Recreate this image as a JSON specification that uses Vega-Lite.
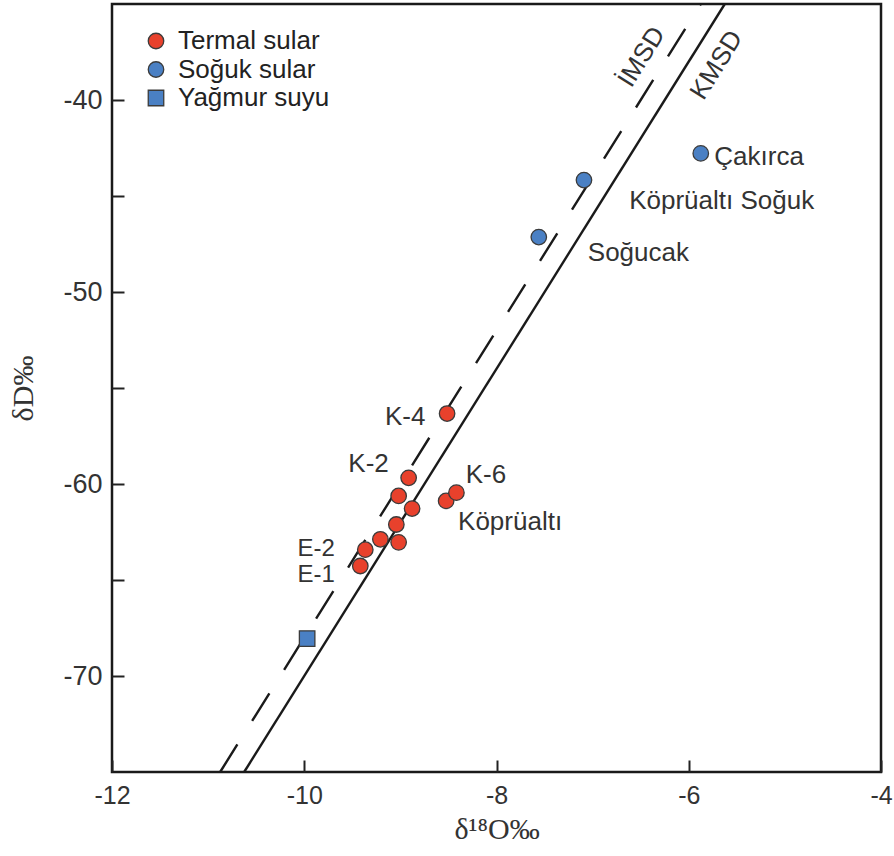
{
  "$schema": "https://vega.github.io/schema/vega-lite/v6.json",
  "width": 769,
  "height": 768,
  "autosize": "none",
  "padding": {"left": 112, "top": 4, "right": 13, "bottom": 84},
  "background": "white",
  "config": {
    "view": {"stroke": "#1a1a1a", "strokeWidth": 2.5},
    "font": "Liberation Sans"
  },
  "datasets": {
    "lines": [
      {"line": "KMSD", "x": -10.625, "y": -75},
      {"line": "KMSD", "x": -5.625, "y": -35},
      {"line": "IMSD", "x": -10.875, "y": -75},
      {"line": "IMSD", "x": -5.875, "y": -35}
    ],
    "points": [
      {"x": -9.97, "y": -68.05, "type": "Yağmur suyu"},
      {"x": -9.417, "y": -64.27, "type": "Termal sular"},
      {"x": -9.365, "y": -63.42, "type": "Termal sular"},
      {"x": -9.208, "y": -62.88, "type": "Termal sular"},
      {"x": -9.018, "y": -63.04, "type": "Termal sular"},
      {"x": -9.042, "y": -62.11, "type": "Termal sular"},
      {"x": -9.018, "y": -60.62, "type": "Termal sular"},
      {"x": -8.878, "y": -61.28, "type": "Termal sular"},
      {"x": -8.914, "y": -59.68, "type": "Termal sular"},
      {"x": -8.524, "y": -60.88, "type": "Termal sular"},
      {"x": -8.417, "y": -60.45, "type": "Termal sular"},
      {"x": -8.514, "y": -56.33, "type": "Termal sular"},
      {"x": -7.56, "y": -47.14, "type": "Soğuk sular"},
      {"x": -7.09, "y": -44.17, "type": "Soğuk sular"},
      {"x": -5.875, "y": -42.78, "type": "Soğuk sular"}
    ],
    "labels": [
      {"label": "Çakırca", "x": -5.734, "y": -42.97, "align": "left"},
      {"label": "Köprüaltı Soğuk", "x": -6.62, "y": -45.27, "align": "left"},
      {"label": "Soğucak", "x": -7.05, "y": -47.98, "align": "left"},
      {"label": "K-4", "x": -8.74, "y": -56.52, "align": "right"},
      {"label": "K-2", "x": -9.12, "y": -58.97, "align": "right"},
      {"label": "K-6", "x": -8.32, "y": -59.54, "align": "left"},
      {"label": "Köprüaltı", "x": -8.4, "y": -61.99, "align": "left"},
      {"label": "E-2", "x": -10.07, "y": -63.38, "align": "small"},
      {"label": "E-1", "x": -10.07, "y": -64.72, "align": "small"}
    ],
    "lineLabels": [
      {"label": "İMSD", "x": -6.49, "y": -37.76},
      {"label": "KMSD", "x": -5.71, "y": -38.18}
    ]
  },
  "encoding": {
    "x": {
      "field": "x",
      "type": "quantitative",
      "scale": {"domain": [-12, -4], "nice": false, "zero": false},
      "axis": {
        "title": "δ¹⁸O‰",
        "values": [-12, -10, -8, -6, -4],
        "labelExpr": "'' + datum.value",
        "domain": false,
        "grid": false,
        "tickSize": -12,
        "tickWidth": 2,
        "tickColor": "#222",
        "labelFontSize": 25,
        "labelColor": "#333",
        "labelPadding": 23,
        "labelFlush": false,
        "titleFont": "Liberation Serif",
        "titleFontSize": 30,
        "titleFontWeight": "normal",
        "titleColor": "#333",
        "titlePadding": 6
      }
    },
    "y": {
      "field": "y",
      "type": "quantitative",
      "scale": {"domain": [-75, -35], "nice": false, "zero": false},
      "axis": {
        "title": "δD‰",
        "values": [-70, -65, -60, -55, -50, -45, -40],
        "labelExpr": "datum.value % 10 === 0 ? '' + datum.value : ''",
        "domain": false,
        "grid": false,
        "tickSize": -12,
        "tickWidth": 2,
        "tickColor": "#222",
        "labelFontSize": 27,
        "labelColor": "#333",
        "labelPadding": 22,
        "titleFont": "Liberation Serif",
        "titleFontSize": 30,
        "titleFontWeight": "normal",
        "titleColor": "#333",
        "titlePadding": 24
      }
    }
  },
  "layer": [
    {
      "data": {"name": "lines"},
      "transform": [{"filter": "datum.line === 'KMSD'"}],
      "mark": {"type": "line", "color": "#1a1a1a", "strokeWidth": 2.4},
      "encoding": {}
    },
    {
      "data": {"name": "lines"},
      "transform": [{"filter": "datum.line === 'IMSD'"}],
      "mark": {"type": "line", "color": "#1a1a1a", "strokeWidth": 2.4, "strokeDash": [32.5, 27.8]},
      "encoding": {}
    },
    {
      "data": {"name": "points"},
      "mark": {"type": "point", "filled": true, "opacity": 1, "stroke": "#3b3b3b", "strokeWidth": 1.3},
      "encoding": {
        "color": {
          "field": "type",
          "type": "nominal",
          "scale": {"domain": ["Termal sular", "Soğuk sular", "Yağmur suyu"], "range": ["#E8412C", "#4A80C4", "#4A80C4"]},
          "legend": {
            "orient": "none",
            "legendX": 31,
            "legendY": 24,
            "title": null,
            "padding": 0,
            "labelFontSize": 26,
            "labelColor": "#222",
            "labelFont": "Liberation Sans",
            "labelOffset": 9,
            "rowPadding": 2.5,
            "symbolStrokeColor": "#3b3b3b",
            "symbolStrokeWidth": 1.3,
            "symbolOpacity": 1
          }
        },
        "shape": {
          "field": "type",
          "type": "nominal",
          "scale": {"domain": ["Termal sular", "Soğuk sular", "Yağmur suyu"], "range": ["circle", "circle", "square"]}
        },
        "size": {
          "field": "type",
          "type": "nominal",
          "scale": {"domain": ["Termal sular", "Soğuk sular", "Yağmur suyu"], "range": [240, 240, 340]}
        }
      }
    },
    {
      "data": {"name": "labels"},
      "transform": [{"filter": "datum.align === 'left'"}],
      "mark": {"type": "text", "align": "left", "baseline": "middle", "fontSize": 26, "color": "#333", "font": "Liberation Sans"},
      "encoding": {"text": {"field": "label"}}
    },
    {
      "data": {"name": "labels"},
      "transform": [{"filter": "datum.align === 'small'"}],
      "mark": {"type": "text", "align": "left", "baseline": "middle", "fontSize": 24, "color": "#333", "font": "Liberation Sans"},
      "encoding": {"text": {"field": "label"}}
    },
    {
      "data": {"name": "labels"},
      "transform": [{"filter": "datum.align === 'right'"}],
      "mark": {"type": "text", "align": "right", "baseline": "middle", "fontSize": 26, "color": "#333", "font": "Liberation Sans"},
      "encoding": {"text": {"field": "label"}}
    },
    {
      "data": {"name": "lineLabels"},
      "mark": {"type": "text", "align": "center", "baseline": "middle", "angle": 302, "fontSize": 26, "color": "#333", "font": "Liberation Sans"},
      "encoding": {"text": {"field": "label"}}
    }
  ]
}
